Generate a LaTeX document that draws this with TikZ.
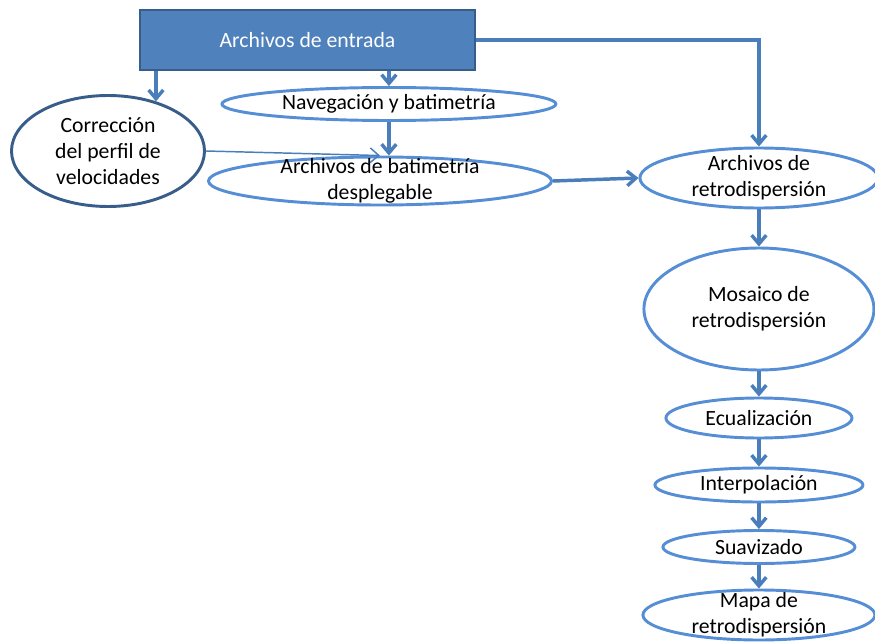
\documentclass[tikz,border=0pt]{standalone}
\usepackage{fontspec}
\setmainfont{Carlito}
\usetikzlibrary{calc, shapes, arrows.meta, positioning}
\definecolor{boxfill}{HTML}{4F81BD}
\definecolor{boxline}{HTML}{385D8A}
\definecolor{ovalline}{HTML}{558ED5}
\definecolor{arrowline}{HTML}{4A7EBB}
\tikzset{
    >={Straight Barb[length=6.5pt, width=11pt]},
    rectanglenode/.style = {draw=boxline, fill=boxfill, rectangle, line width=1.5pt, inner sep = 0em,
      node distance=0em, text=white},
    ellipsenode/.style = {draw=ovalline, ellipse, line width=2.2pt, inner sep = -6em, node distance=0em},
    connect/.style = {arrowline, line width=2.6pt, ->},
    thinconnect/.style = {arrowline, line width=1.1pt, ->},
    every text node part/.style={align=center}
}
\begin{document}
\begin{tikzpicture}[font=\fontsize{16.3}{19.5}\selectfont]
    \useasboundingbox (0,0) rectangle (656.25pt,-481.5pt);
    \node [name=entrada, rectanglenode, minimum width=251.25pt, minimum height=45pt] at (230.6pt,-30pt) {Archivos de entrada};
    \node [name=nav, ellipsenode, right of=entrada, xshift=61.1pt, yshift=-48pt, minimum width=250.5pt, minimum height=24.75pt] {Navegación y batimetría};
    \node [name=corr, ellipsenode, draw=boxline, left of=entrada, xshift=-149.6pt, yshift=-83.25pt, minimum width=144.75pt, minimum height=83.25pt] {Corrección\\del perfil de\\velocidades};
    \node [name=despl, ellipsenode, right of=entrada, xshift=54.4pt, yshift=-105.75pt, minimum width=257.25pt, minimum height=36pt] {Archivos de batimetría\\desplegable};
    \node [name=retro, ellipsenode, right of=entrada, xshift=338.6pt, yshift=-103.5pt, minimum width=178.5pt, minimum height=45pt] {Archivos de\\retrodispersión};
    \node [name=mosaico, ellipsenode, below of=retro, yshift=-98.25pt, minimum width=172.5pt, minimum height=91.5pt] {Mosaico de\\retrodispersión};
    \node [name=ecual, ellipsenode, below of=mosaico, yshift=-81.75pt, minimum width=139.5pt, minimum height=30pt] {Ecualización};
    \node [name=interp, ellipsenode, below of=ecual, yshift=-50.25pt, minimum width=156pt, minimum height=25.5pt] {Interpolación};
    \node [name=suav, ellipsenode, below of=interp, yshift=-46.5pt, minimum width=144pt, minimum height=24.75pt] {Suavizado};
    \node [name=mapa, ellipsenode, below of=suav, yshift=-51pt, minimum width=174pt, minimum height=37.5pt] {Mapa de\\retrodispersión};

    \draw (entrada.south -| corr.46) edge[connect] (corr.46);
    \draw (nav.north |- entrada.south) edge[connect] (nav.north);
    \draw (nav.south) edge[connect] (nav.south |- despl.north);
    \draw (corr.east) edge[thinconnect] (despl.north);
    \draw[connect] (entrada.east) -| (retro.north);
    \draw (despl.east) edge[connect] (retro.west);

    \draw (retro) edge[connect] (mosaico);
    \draw (mosaico) edge[connect] (ecual);
    \draw (ecual) edge[connect] (interp);
    \draw (interp) edge[connect] (suav);
    \draw (suav) edge[connect] (mapa);
\end{tikzpicture}
\end{document}
